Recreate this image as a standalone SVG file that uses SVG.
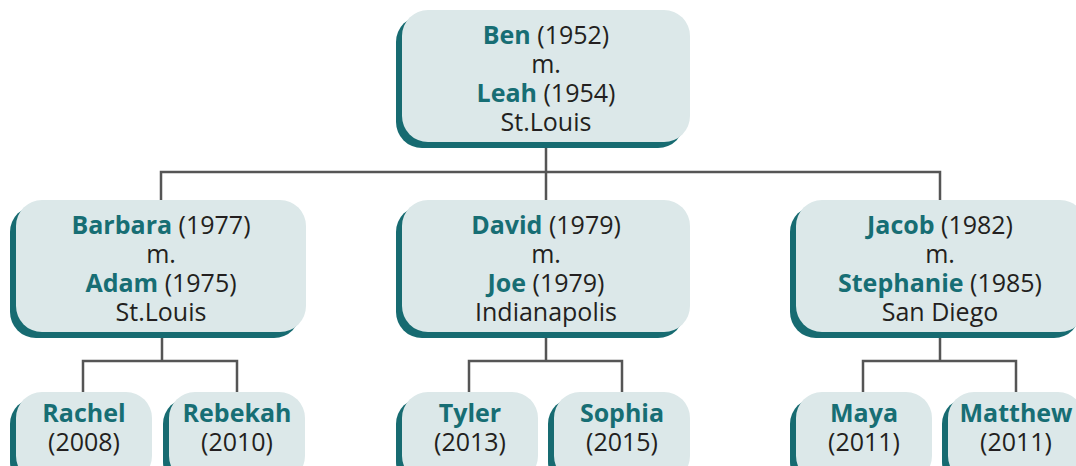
<svg xmlns="http://www.w3.org/2000/svg" width="1076" height="466" viewBox="0 0 1076 466">
<style>
.sh{fill:#176b71}
.bx{fill:#dce8e9}
text{font-family:"Open Sans","Noto Sans","Liberation Sans",sans-serif;font-size:25px;fill:#231f20;text-anchor:middle}
.n{font-weight:700;fill:#176e74}
.ln{stroke:#555;stroke-width:2.5;fill:none}
</style>
<rect width="1076" height="466" fill="#fff"/>
<g id="connectors">
<path class="ln" d="M546 142V172M161 200V172H940V200M546 172V200"/>
<path class="ln" d="M162 332V361M83 392V361H237V392"/>
<path class="ln" d="M546 332V361M469 392V361H622V392"/>
<path class="ln" d="M940 332V361M863 392V361H1016V392"/>
</g>
<g id="ben-leah">
<rect class="sh" x="396" y="16" width="288" height="132" rx="26"/>
<rect class="bx" x="402" y="10" width="288" height="132" rx="26"/>
<text><tspan x="546" y="43.5"><tspan class="n">Ben</tspan> (1952)</tspan><tspan x="546" y="72.5">m.</tspan><tspan x="546" y="101.5"><tspan class="n">Leah</tspan> (1954)</tspan><tspan x="546" y="130.5">St.Louis</tspan></text>
</g>
<g id="barbara-adam">
<rect class="sh" x="10" y="206" width="290" height="132" rx="26"/>
<rect class="bx" x="16" y="200" width="290" height="132" rx="26"/>
<text><tspan x="161" y="233.5"><tspan class="n">Barbara</tspan> (1977)</tspan><tspan x="161" y="262.5">m.</tspan><tspan x="161" y="291.5"><tspan class="n">Adam</tspan> (1975)</tspan><tspan x="161" y="320.5">St.Louis</tspan></text>
</g>
<g id="david-joe">
<rect class="sh" x="396" y="206" width="288" height="132" rx="26"/>
<rect class="bx" x="402" y="200" width="288" height="132" rx="26"/>
<text><tspan x="546" y="233.5"><tspan class="n">David</tspan> (1979)</tspan><tspan x="546" y="262.5">m.</tspan><tspan x="546" y="291.5"><tspan class="n">Joe</tspan> (1979)</tspan><tspan x="546" y="320.5">Indianapolis</tspan></text>
</g>
<g id="jacob-stephanie">
<rect class="sh" x="790" y="206" width="290" height="132" rx="26"/>
<rect class="bx" x="796" y="200" width="290" height="132" rx="26"/>
<text><tspan x="940" y="233.5"><tspan class="n">Jacob</tspan> (1982)</tspan><tspan x="940" y="262.5">m.</tspan><tspan x="940" y="291.5"><tspan class="n">Stephanie</tspan> (1985)</tspan><tspan x="940" y="320.5">San Diego</tspan></text>
</g>
<g id="rachel">
<rect class="sh" x="10" y="398" width="136" height="90" rx="26"/>
<rect class="bx" x="16" y="392" width="136" height="90" rx="26"/>
<text><tspan class="n" x="84" y="421.5">Rachel</tspan><tspan x="84" y="450.5">(2008)</tspan></text>
</g>
<g id="rebekah">
<rect class="sh" x="163" y="398" width="136" height="90" rx="26"/>
<rect class="bx" x="169" y="392" width="136" height="90" rx="26"/>
<text><tspan class="n" x="237" y="421.5">Rebekah</tspan><tspan x="237" y="450.5">(2010)</tspan></text>
</g>
<g id="tyler">
<rect class="sh" x="396" y="398" width="136" height="90" rx="26"/>
<rect class="bx" x="402" y="392" width="136" height="90" rx="26"/>
<text><tspan class="n" x="470" y="421.5">Tyler</tspan><tspan x="470" y="450.5">(2013)</tspan></text>
</g>
<g id="sophia">
<rect class="sh" x="548" y="398" width="136" height="90" rx="26"/>
<rect class="bx" x="554" y="392" width="136" height="90" rx="26"/>
<text><tspan class="n" x="622" y="421.5">Sophia</tspan><tspan x="622" y="450.5">(2015)</tspan></text>
</g>
<g id="maya">
<rect class="sh" x="790" y="398" width="136" height="90" rx="26"/>
<rect class="bx" x="796" y="392" width="136" height="90" rx="26"/>
<text><tspan class="n" x="864" y="421.5">Maya</tspan><tspan x="864" y="450.5">(2011)</tspan></text>
</g>
<g id="matthew">
<rect class="sh" x="942" y="398" width="136" height="90" rx="26"/>
<rect class="bx" x="948" y="392" width="136" height="90" rx="26"/>
<text><tspan class="n" x="1016" y="421.5">Matthew</tspan><tspan x="1016" y="450.5">(2011)</tspan></text>
</g>
</svg>
